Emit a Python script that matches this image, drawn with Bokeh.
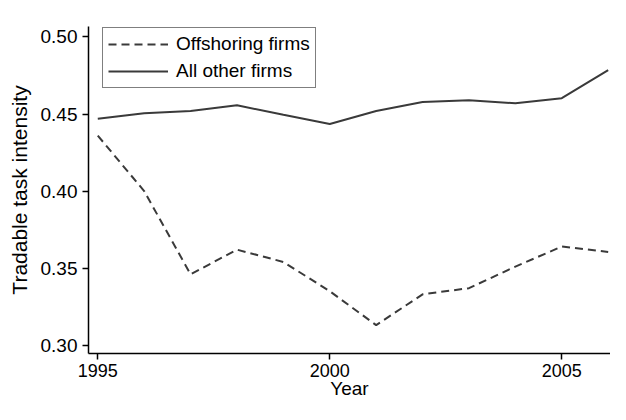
from bokeh.plotting import figure
from bokeh.models import Range1d, FixedTicker, NumeralTickFormatter, Legend, LegendItem
from bokeh.embed import file_html
from bokeh.resources import INLINE

years = [1995, 1996, 1997, 1998, 1999, 2000, 2001, 2002, 2003, 2004, 2005, 2006]
offshoring = [0.436, 0.400, 0.346, 0.362, 0.354, 0.335, 0.313, 0.333, 0.337, 0.351, 0.364, 0.3605]
all_other = [0.447, 0.4505, 0.452, 0.4557, 0.4495, 0.4435, 0.452, 0.4578, 0.459, 0.457, 0.4603, 0.4785]
x_ticks = [1995, 2000, 2005]
y_ticks = [0.30, 0.35, 0.40, 0.45, 0.50]

FONT = "Liberation Sans"
LINE_COLOR = "#3a3a3a"

p = figure(width=610, height=404, output_backend="svg", toolbar_location=None,
           x_range=Range1d(1994.8, 2006.05), y_range=Range1d(0.2946, 0.5068),
           min_border_left=88, min_border_top=26, min_border_bottom=51, min_border_right=0)
p.outline_line_color = None
p.xgrid.grid_line_color = None
p.ygrid.grid_line_color = None

r1 = p.line(years, offshoring, line_color=LINE_COLOR, line_width=2, line_dash="8 5")
r2 = p.line(years, all_other, line_color=LINE_COLOR, line_width=2)

for ax in (p.xaxis[0], p.yaxis[0]):
    ax.axis_line_color = "black"
    ax.axis_line_width = 1.5
    ax.major_tick_line_color = "black"
    ax.major_tick_line_width = 1.5
    ax.major_tick_in = 0
    ax.major_tick_out = 6
    ax.minor_tick_line_color = None
    ax.major_label_text_font = FONT
    ax.major_label_text_color = "black"
    ax.axis_label_text_font = FONT
    ax.axis_label_text_font_style = "normal"
    ax.axis_label_text_color = "black"

p.xaxis.major_label_text_font_size = "18px"
p.yaxis.major_label_text_font_size = "19px"
p.xaxis.axis_label_text_font_size = "19px"
p.yaxis.axis_label_text_font_size = "21px"
p.xaxis.ticker = FixedTicker(ticks=x_ticks)
p.yaxis.ticker = FixedTicker(ticks=y_ticks)
p.yaxis.formatter = NumeralTickFormatter(format="0.00")
p.xaxis.axis_label = "Year"
p.yaxis.axis_label = "Tradable task intensity"
p.xaxis.major_label_standoff = 4
p.yaxis.major_label_standoff = 5
p.xaxis.axis_label_standoff = -2
p.yaxis.axis_label_standoff = 7

legend = Legend(items=[LegendItem(label="Offshoring firms", renderers=[r1]),
                       LegendItem(label="All other firms", renderers=[r2])],
                location=(14, 265))
legend.label_text_font = FONT
legend.label_text_font_size = "19px"
legend.label_text_color = "black"
legend.border_line_color = "black"
legend.border_line_width = 1.5
legend.padding = 5
legend.spacing = 5
legend.margin = 0
legend.glyph_width = 60
legend.glyph_height = 22
legend.label_height = 22
legend.label_standoff = 8
legend.background_fill_alpha = 1
p.add_layout(legend)

open("out.html", "w").write(file_html(p, INLINE))
